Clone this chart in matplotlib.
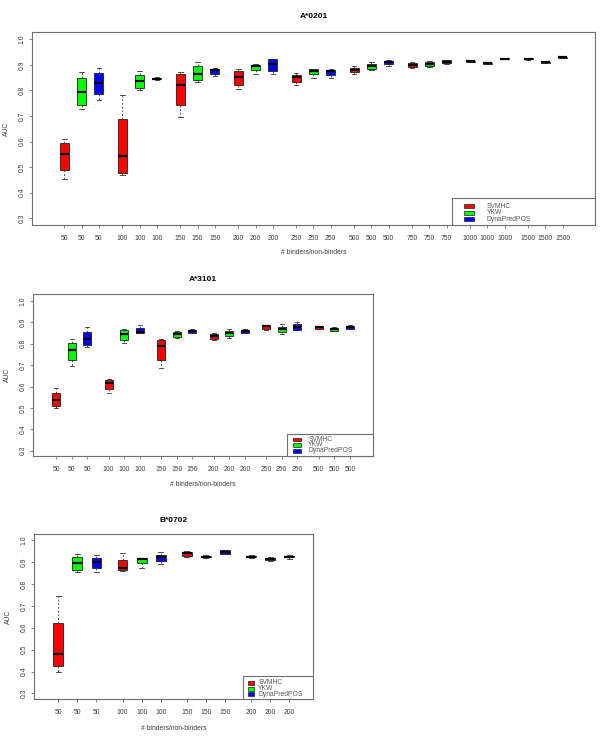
import matplotlib
matplotlib.use('Agg')
import matplotlib.pyplot as plt
from matplotlib.patches import Rectangle

plt.rcParams['font.family'] = ['Liberation Sans', 'DejaVu Sans']

# ---------------- data ----------------
methods = ['SVMHC', 'YKW', 'DynaPredPOS']
method_colors = ['#FF0000', '#00FF00', '#0000FF']
xlabel_text = '# binders/non-binders'
ylabel_text = 'AUC'
yticks = [0.3, 0.4, 0.5, 0.6, 0.7, 0.8, 0.9, 1.0]

# five-number summaries per group: (lower whisker, Q1, median, Q3, upper whisker)
a0201_title = 'A*0201'
a0201_groups = ['50', '100', '150', '200', '250', '500', '750', '1000', '1500']
a0201_svmhc = [(0.453, 0.487, 0.551, 0.594, 0.609), (0.471, 0.479, 0.543, 0.689, 0.781),
               (0.695, 0.741, 0.822, 0.863, 0.871), (0.805, 0.820, 0.854, 0.876, 0.884),
               (0.819, 0.832, 0.852, 0.859, 0.867), (0.863, 0.870, 0.879, 0.887, 0.895),
               (0.887, 0.892, 0.898, 0.905, 0.910), (0.910, 0.911, 0.913, 0.914, 0.915),
               (0.918, 0.921, 0.923, 0.927, 0.928)]
a0201_ykw = [(0.727, 0.742, 0.793, 0.848, 0.871), (0.803, 0.811, 0.836, 0.859, 0.874),
             (0.833, 0.842, 0.865, 0.895, 0.911), (0.865, 0.879, 0.895, 0.900, 0.902),
             (0.850, 0.865, 0.875, 0.882, 0.884), (0.878, 0.885, 0.895, 0.902, 0.910),
             (0.893, 0.897, 0.902, 0.909, 0.913), (0.902, 0.903, 0.905, 0.908, 0.910),
             (0.906, 0.908, 0.910, 0.911, 0.913)]
a0201_dyna = [(0.763, 0.784, 0.828, 0.867, 0.889), (0.842, 0.843, 0.846, 0.849, 0.851),
              (0.857, 0.865, 0.878, 0.885, 0.889), (0.865, 0.874, 0.904, 0.921, 0.922),
              (0.848, 0.861, 0.876, 0.879, 0.882), (0.897, 0.904, 0.910, 0.915, 0.918),
              (0.903, 0.905, 0.911, 0.917, 0.918), (0.921, 0.922, 0.923, 0.925, 0.926),
              (0.925, 0.927, 0.929, 0.931, 0.934)]

a3101_title = 'A*3101'
a3101_groups = ['50', '100', '150', '200', '250', '500']
a3101_svmhc = [(0.498, 0.509, 0.537, 0.570, 0.593), (0.568, 0.590, 0.615, 0.629, 0.637),
               (0.685, 0.722, 0.788, 0.816, 0.821), (0.817, 0.821, 0.836, 0.845, 0.852),
               (0.864, 0.869, 0.881, 0.886, 0.889), (0.867, 0.869, 0.877, 0.881, 0.883)]
a3101_ykw = [(0.694, 0.722, 0.769, 0.802, 0.821), (0.803, 0.817, 0.844, 0.866, 0.867),
             (0.825, 0.830, 0.844, 0.855, 0.860), (0.828, 0.836, 0.849, 0.858, 0.867),
             (0.847, 0.856, 0.869, 0.878, 0.891), (0.858, 0.860, 0.869, 0.875, 0.877)]
a3101_dyna = [(0.783, 0.794, 0.821, 0.853, 0.877), (0.848, 0.849, 0.853, 0.872, 0.886),
              (0.848, 0.849, 0.858, 0.866, 0.867), (0.849, 0.849, 0.858, 0.866, 0.867),
              (0.863, 0.864, 0.877, 0.891, 0.903), (0.868, 0.870, 0.878, 0.884, 0.888)]

b0702_title = 'B*0702'
b0702_groups = ['50', '100', '150', '200']
b0702_svmhc = [(0.396, 0.427, 0.480, 0.623, 0.747), (0.860, 0.863, 0.872, 0.910, 0.941),
               (0.922, 0.927, 0.941, 0.948, 0.951), (0.919, 0.923, 0.925, 0.929, 0.931)]
b0702_ykw = [(0.854, 0.866, 0.895, 0.922, 0.936), (0.875, 0.896, 0.916, 0.918, 0.919),
             (0.920, 0.921, 0.925, 0.930, 0.931), (0.906, 0.908, 0.912, 0.920, 0.922)]
b0702_dyna = [(0.854, 0.875, 0.902, 0.918, 0.931), (0.890, 0.904, 0.921, 0.933, 0.945),
              (0.935, 0.937, 0.947, 0.954, 0.956), (0.916, 0.921, 0.925, 0.929, 0.932)]

# ---------------- layout / style ----------------
FIG_W, FIG_H, DPI = 600, 736, 100
GROUP_STEP = 3.36
FS = 4.9
TXT = '#3a3a3a'
FRAME = '#6e6e6e'

fig = plt.figure(figsize=(FIG_W / DPI, FIG_H / DPI), dpi=DPI)
fig.patch.set_facecolor('white')


def px_axes(l, t, r, b):
    return fig.add_axes([l / FIG_W, 1 - b / FIG_H, (r - l) / FIG_W, (b - t) / FIG_H])


def pt(px):
    return px * 72.0 / DPI


def draw_panel(rect, title, groups, series, margin, ylim, title_gap, xl_gap, yl_off):
    ax = px_axes(*rect)
    positions, labels = [], []
    for m, (vals, col) in enumerate(zip(series, method_colors)):
        pos = [g * GROUP_STEP + m for g in range(len(groups))]
        stats = [dict(whislo=v[0], q1=v[1], med=v[2], q3=v[3], whishi=v[4], fliers=[])
                 for v in vals]
        ax.bxp(stats, positions=pos, widths=0.52, capwidths=0.26, patch_artist=True,
               showfliers=False, manage_ticks=False,
               boxprops=dict(facecolor=col, edgecolor='#202020', linewidth=0.6),
               medianprops=dict(color='black', linewidth=1.6, solid_capstyle='butt'),
               whiskerprops=dict(color='#303030', linewidth=0.6, linestyle=(0, (2.2, 2.2))),
               capprops=dict(color='#303030', linewidth=0.6))
        positions += pos
        labels += groups
    order = sorted(range(len(positions)), key=lambda i: positions[i])
    ax.set_xticks([positions[i] for i in order])
    ax.set_xticklabels([labels[i] for i in order])
    last = max(positions)
    ax.set_xlim(-margin, last + margin)
    ax.set_ylim(*ylim)
    ax.set_yticks(yticks)
    ax.set_yticklabels(['%.1f' % v for v in yticks])
    for s in ax.spines.values():
        s.set_color(FRAME)
        s.set_linewidth(0.8)
    ax.tick_params(axis='x', length=2.5, width=0.6, color=FRAME, labelsize=FS,
                   labelcolor=TXT, pad=4.6)
    ax.tick_params(axis='y', length=2.5, width=0.6, color=FRAME, labelsize=FS,
                   labelcolor=TXT, pad=2.2, labelrotation=90)
    for lab in ax.get_yticklabels():
        lab.set_va('center')
    ax.annotate(title, xy=(0.5, 1), xycoords='axes fraction', xytext=(0, pt(title_gap)),
                textcoords='offset points', ha='center', va='center',
                fontsize=6.0, fontweight='bold', color='black')
    ax.annotate(xlabel_text, xy=(0.5, 0), xycoords='axes fraction', xytext=(0, -pt(xl_gap)),
                textcoords='offset points', ha='center', va='center', fontsize=FS, color=TXT)
    ax.annotate(ylabel_text, xy=(0, 0.5), xycoords='axes fraction', xytext=(-pt(yl_off), 0),
                textcoords='offset points', ha='center', va='center', fontsize=FS, color=TXT,
                rotation=90)
    return ax


def draw_legend(box, rows_y, patch_x, patch_h, text_x):
    l, t, r, b = box
    tr = fig.dpi_scale_trans
    fig.add_artist(Rectangle((l / DPI, (FIG_H - b) / DPI), (r - l) / DPI, (b - t) / DPI,
                             transform=tr, facecolor='white', edgecolor=FRAME, linewidth=0.8))
    for name, col, y in zip(methods, method_colors, rows_y):
        fig.add_artist(Rectangle((patch_x[0] / DPI, (FIG_H - y - patch_h / 2) / DPI),
                                 (patch_x[1] - patch_x[0]) / DPI, patch_h / DPI, transform=tr,
                                 facecolor=col, edgecolor='#202020', linewidth=0.5))
        fig.text(text_x / DPI, (FIG_H - y) / DPI, name, transform=tr, ha='left', va='center',
                 fontsize=FS, color='#555555')


draw_panel((32, 32, 595, 225), a0201_title, a0201_groups,
           [a0201_svmhc, a0201_ykw, a0201_dyna], 1.88, (0.274, 1.028), 16, 28, 26)
draw_legend((451.7, 198.3, 595, 225), [206, 212.5, 219.3], (464, 474), 4, 486.7)

draw_panel((33.3, 294, 372.7, 455.7), a3101_title, a3101_groups,
           [a3101_svmhc, a3101_ykw, a3101_dyna], 1.46, (0.277, 1.032), 15, 28.5, 26)
draw_legend((286.7, 433.7, 372.7, 455.7), [439.3, 445, 451], (293.3, 300.7), 3.4, 308.3)

draw_panel((34.3, 534.3, 313.3, 699.3), b0702_title, b0702_groups,
           [b0702_svmhc, b0702_ykw, b0702_dyna], 1.25, (0.273, 1.027), 14.3, 29.4, 26)
draw_legend((242.7, 676.3, 313.3, 699.3), [682.7, 688.7, 694.3], (248.3, 254), 3.6, 258.3)

fig.savefig('out.png', dpi=DPI, facecolor='white')
